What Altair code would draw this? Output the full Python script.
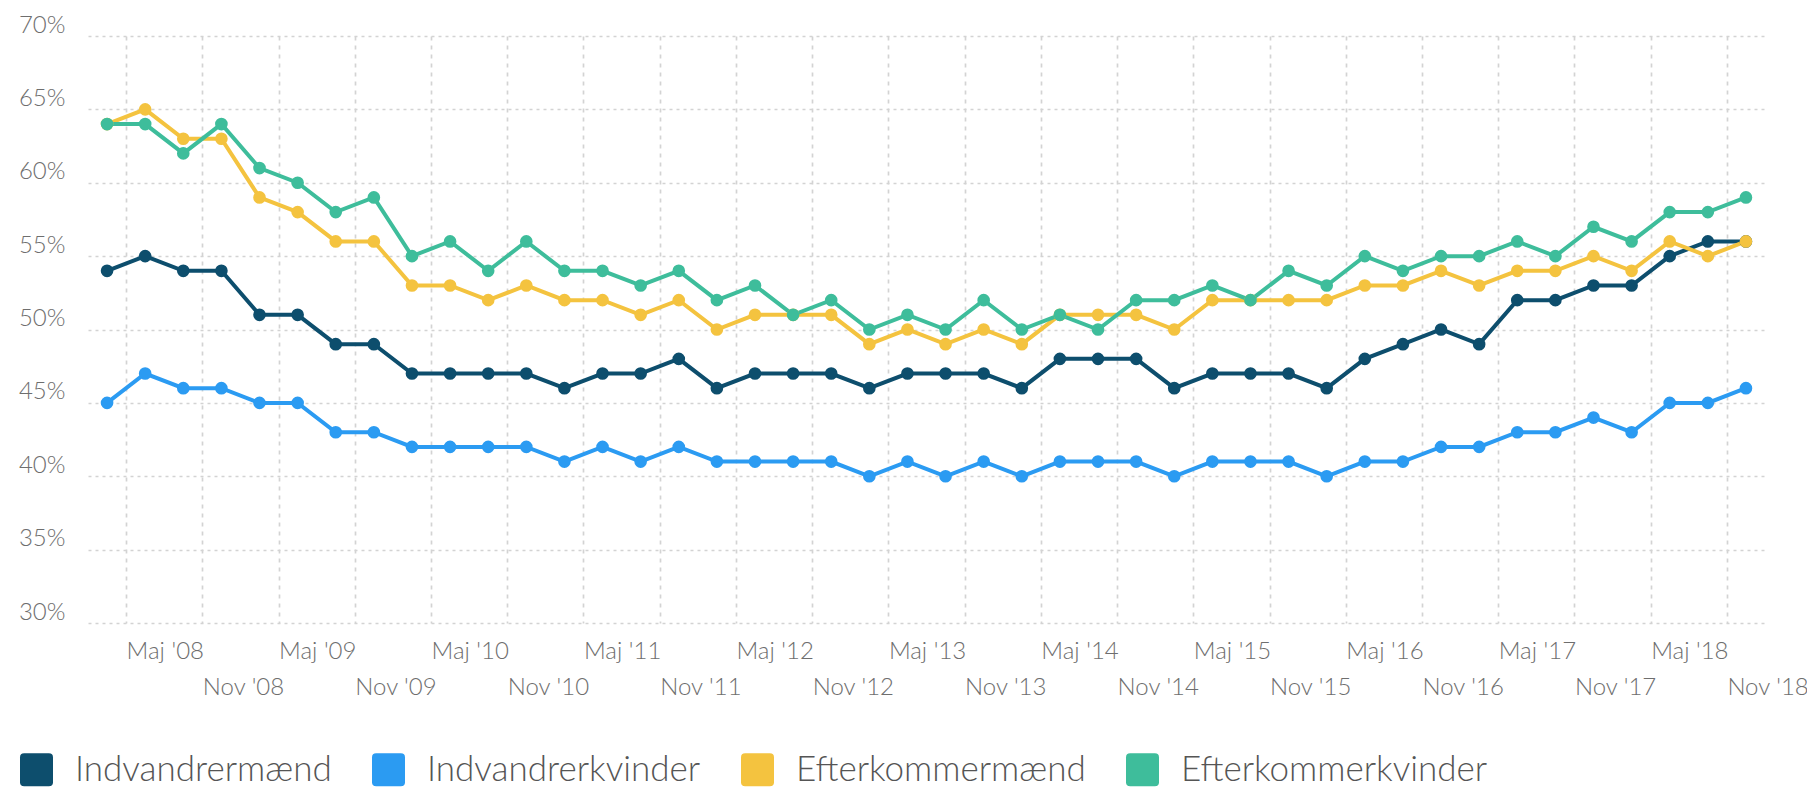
import altair as alt
import pandas as pd

# ---- data (quarterly, Feb '08 .. Nov '18), values in % ----
series_names = ["Indvandrermænd", "Indvandrerkvinder", "Efterkommermænd", "Efterkommerkvinder"]
series_colors = ["#0d4e6d", "#2b9bf2", "#f4c33f", "#3ebd9b"]

indvandrermaend = [54, 55, 54, 54, 51, 51, 49, 49, 47, 47, 47, 47, 46, 47, 47, 48, 46, 47, 47, 47, 46, 47,
                   47, 47, 46, 48, 48, 48, 46, 47, 47, 47, 46, 48, 49, 50, 49, 52, 52, 53, 53, 55, 56, 56]
indvandrerkvinder = [45, 47, 46, 46, 45, 45, 43, 43, 42, 42, 42, 42, 41, 42, 41, 42, 41, 41, 41, 41, 40, 41,
                     40, 41, 40, 41, 41, 41, 40, 41, 41, 41, 40, 41, 41, 42, 42, 43, 43, 44, 43, 45, 45, 46]
efterkommermaend = [64, 65, 63, 63, 59, 58, 56, 56, 53, 53, 52, 53, 52, 52, 51, 52, 50, 51, 51, 51, 49, 50,
                    49, 50, 49, 51, 51, 51, 50, 52, 52, 52, 52, 53, 53, 54, 53, 54, 54, 55, 54, 56, 55, 56]
efterkommerkvinder = [64, 64, 62, 64, 61, 60, 58, 59, 55, 56, 54, 56, 54, 54, 53, 54, 52, 53, 51, 52, 50, 51,
                      50, 52, 50, 51, 50, 52, 52, 53, 52, 54, 53, 55, 54, 55, 55, 56, 55, 57, 56, 58, 58, 59]

quarter_index = list(range(44))

# x-axis ticks (between quarters) and their labels
tick_positions = [0.5 + 2 * k for k in range(22)]
tick_labels = []
for yr in range(8, 19):
    tick_labels.append(f"Maj '{yr:02d}")
    tick_labels.append(f"Nov '{yr:02d}")

y_ticks = [30, 35, 40, 45, 50, 55, 60, 65, 70]

# ---- build long table ----
all_values = [indvandrermaend, indvandrerkvinder, efterkommermaend, efterkommerkvinder]
rows = []
for s_i, (name, vals) in enumerate(zip(series_names, all_values)):
    for q, v in zip(quarter_index, vals):
        rows.append({"q": q, "value": v, "serie": name, "order": s_i})
df = pd.DataFrame(rows)

# label expression: "Maj" labels on first row, "Nov" labels on second row
parts = []
for k, lab in enumerate(tick_labels):
    if k % 2 == 0:
        parts.append('"' + lab + '"')
    else:
        parts.append('["", "' + lab + '"]')
label_expr = "[" + ", ".join(parts) + "][round((datum.value - 0.5) / 2)]"

x_enc = alt.X(
    "q:Q",
    scale=alt.Scale(domain=[-0.5, 43.5], nice=False, zero=False),
    axis=alt.Axis(
        values=tick_positions,
        labelExpr=label_expr,
        title=None,
        domain=False,
        ticks=False,
        grid=True,
        gridColor="#d3d3d3",
        gridDash=[4, 5],
        gridWidth=1.7,
        labelAlign="left",
        labelBaseline="top",
        labelPadding=16,
        labelLineHeight=36,
        labelOverlap=False,
        labelFlush=False,
        labelBound=False,
        labelFont="Lato",
        labelFontWeight=300,
        labelFontSize=24,
        labelColor="#6e6e6e",
    ),
)
y_enc = alt.Y(
    "value:Q",
    scale=alt.Scale(domain=[30, 70], nice=False, zero=False),
    axis=alt.Axis(
        values=y_ticks,
        labelExpr="datum.value + '%'",
        title=None,
        domain=False,
        ticks=False,
        grid=True,
        gridColor="#d3d3d3",
        gridDash=[3, 4],
        gridWidth=1.7,
        labelAlign="right",
        labelBaseline="alphabetic",
        labelOffset=-4,
        labelPadding=23,
        labelFont="Lato",
        labelFontWeight=300,
        labelFontSize=24,
        labelColor="#6e6e6e",
    ),
)

rounded_square = ("M-0.75,-1 L0.75,-1 Q1,-1 1,-0.75 L1,0.75 Q1,1 0.75,1 L-0.75,1 "
                  "Q-1,1 -1,0.75 L-1,-0.75 Q-1,-1 -0.75,-1 Z")

color_scale = alt.Scale(domain=series_names, range=series_colors)
legend_def = alt.Legend(
    title=None,
    orient="none",
    legendX=-69,
    legendY=716,
    direction="horizontal",
    columns=4,
    padding=0,
    symbolType=rounded_square,
    symbolSize=1089,
    symbolStrokeWidth=0,
    symbolOpacity=1,
    labelFont="Lato",
    labelFontWeight=300,
    labelFontSize=35,
    labelColor="#555555",
    labelOffset=21,
    labelLimit=500,
    columnPadding=39,
)

chart = alt.Chart(df).mark_line(
    strokeWidth=4,
    point=alt.OverlayMarkDef(filled=True, size=160, opacity=1),
).encode(
    x=x_enc,
    y=y_enc,
    color=alt.Color("serie:N", scale=color_scale, legend=legend_def),
    order=alt.Order("q:Q"),
).properties(
    width=1677,
    height=587,
    autosize=alt.AutoSizeParams(type="none"),
    padding={"left": 80, "top": 28, "right": 42, "bottom": 164},
    background="#ffffff",
).configure_view(stroke=None)

chart.save("out.html", embed_options={"renderer": "svg", "actions": False})
